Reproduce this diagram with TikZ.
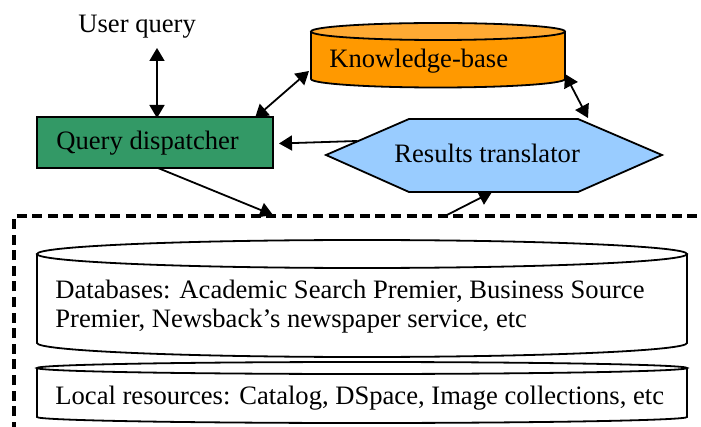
\documentclass[tikz,border=0pt]{standalone}
\usepackage{fontspec}
\setmainfont{Liberation Serif}
\usetikzlibrary{arrows.meta}

\definecolor{dispgreen}{HTML}{339966}
\definecolor{kborange}{HTML}{FF9900}
\definecolor{kbtop}{HTML}{FFAA33}
\definecolor{transblue}{HTML}{99CCFF}

% Vertical cylinder: #1 left x, #2 right x, #3 top centre y, #4 bottom centre y,
% #5 vertical radius of the end ellipses, #6 body fill, #7 lid fill
\newcommand\drawcyl[7]{%
  \pgfmathsetmacro\cylrx{(#2-#1)/2}%
  \pgfmathsetmacro\cylcx{(#1+#2)/2}%
  \fill[#6] (#1,#3) -- (#1,#4) arc[start angle=180,end angle=0,x radius=\cylrx,y radius=#5] -- (#2,#3) -- cycle;
  \draw[outline] (#1,#3) -- (#1,#4) arc[start angle=180,end angle=0,x radius=\cylrx,y radius=#5] -- (#2,#3);
  \filldraw[outline,fill=#7] (\cylcx,#3) ellipse[x radius=\cylrx,y radius=#5];
}

\begin{document}
\begin{tikzpicture}[x=0.5pt,y=-0.5pt,
  every node/.style={font=\fontsize{13.3}{14.75}\selectfont,inner sep=0pt},
  outline/.style={draw=black,line width=0.9pt},
  lbl/.style={anchor=base west},
  tip/.tip={Triangle[length=6.5pt,width=7.5pt]},
  conn/.style={draw,line width=0.9pt,-tip},
  dualconn/.style={draw,line width=0.9pt,tip-tip},
  boundary/.style={draw,line width=1.6pt,dash pattern=on 5pt off 2.8pt,dash phase=2.4pt}]

\useasboundingbox (0,0) rectangle (701,427);

% Boundary of the local search system
\draw[boundary] (14,427) -- (14,216) -- (701,216);

% Databases and local resources
\drawcyl{37}{687}{254}{343}{14}{white}{white}
\node[lbl,align=left] (db) at (55,328)
  {Databases: Academic Search Premier, Business Source\\Premier, Newsback’s newspaper service, etc};
\drawcyl{37}{687}{368}{417}{6}{white}{white}
\node[lbl] (lr) at (55,404) {Local resources: Catalog, DSpace, Image collections, etc};

% Knowledge base
\drawcyl{311}{565}{31.5}{79}{8.5}{kborange}{kbtop}
\node[lbl] (kb) at (329,68) {Knowledge-base};

% Query dispatcher
\node[outline,fill=dispgreen,minimum width=118pt,minimum height=25.5pt] (qd) at (155,142.5) {};
\node[lbl] (qdtext) at (56,150) {Query dispatcher};

% Results translator
\filldraw[outline,fill=transblue] (326,155) -- (409,119) -- (578,119) -- (662,155) -- (578,192) -- (409,192) -- cycle;
\node[lbl] (rt) at (394,163) {Results translator};

% User query
\node[lbl] (uq) at (78,33) {User query};

% Connector ends
\coordinate (uqend) at (157,48);
\coordinate (qdtop) at (157,118);
\coordinate (kbleft) at (309,71);
\coordinate (qdright) at (255,118);
\coordinate (kbright) at (565,74);
\coordinate (rttop) at (588,118);
\coordinate (rtleft) at (357,141);
\coordinate (qdside) at (279,143.5);
\coordinate (qdbottom) at (158,168);
\coordinate (boxin) at (273,215);
\coordinate (boxout) at (445,216);
\coordinate (rtbottom) at (492,192);

\draw[dualconn] (uqend) -- (qdtop);
\draw[dualconn] (kbleft) -- (qdright);
\draw[dualconn] (kbright) -- (rttop);
\draw[conn] (rtleft) -- (qdside);
\draw[conn] (qdbottom) -- (boxin);
\draw[conn] (boxout) -- (rtbottom);
\end{tikzpicture}
\end{document}
